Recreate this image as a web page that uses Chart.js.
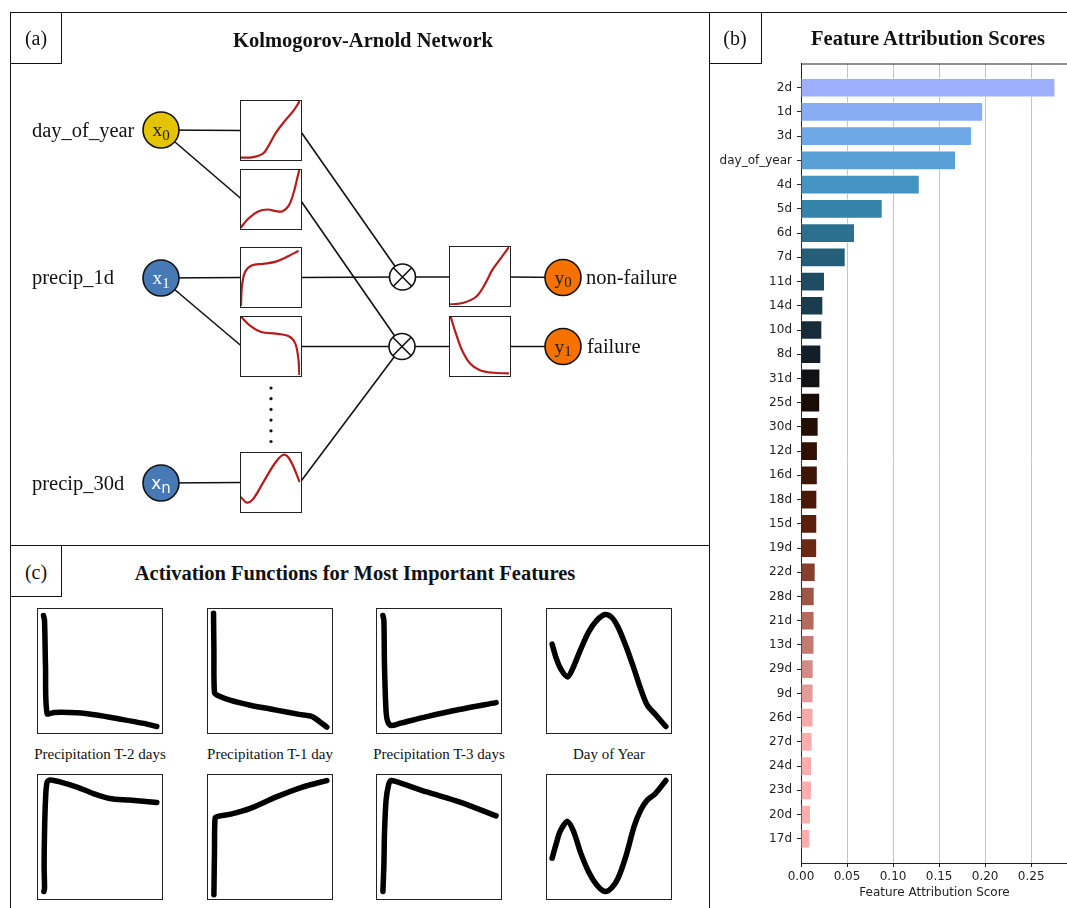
<!DOCTYPE html>
<html>
<head>
<meta charset="utf-8">
<script src="https://cdn.jsdelivr.net/npm/chart.js@4.4.1/dist/chart.umd.min.js"></script>
<style>
body{margin:0;width:1067px;height:908px;overflow:hidden;background:#fff;position:relative;font-family:"Liberation Serif","Times New Roman",serif;color:#111;}
.frame{position:absolute;border:1.5px solid #111;box-sizing:border-box;}
.box{position:absolute;border:1.5px solid #222;box-sizing:border-box;background:#fff;}
.box canvas{position:absolute;left:0;top:0;}
.txt{position:absolute;white-space:nowrap;line-height:1.2;}
.ttl{font-weight:bold;font-size:20.5px;text-align:center;}
.node{position:absolute;width:36px;height:36px;display:flex;align-items:center;justify-content:center;font-size:19.5px;line-height:1;}
.node .s{position:relative;top:5px;font-size:15px;}
canvas{display:block;}
</style>
</head>
<body>

<!-- panel frames -->
<div class="frame" style="left:10px;top:12px;width:700px;height:534px;"></div>
<div class="frame" style="left:10px;top:544.5px;width:700px;height:420px;"></div>
<div class="frame" style="left:708.5px;top:12px;width:420px;height:960px;"></div>
<div class="frame" style="left:10px;top:12px;width:52px;height:52px;"></div>
<div class="frame" style="left:708.5px;top:12px;width:53px;height:52px;"></div>
<div class="frame" style="left:10px;top:544.5px;width:52px;height:52.5px;"></div>

<canvas id="kan" width="709" height="545" style="position:absolute;left:0;top:0;"></canvas>
<canvas id="bars" width="370" height="896" style="position:absolute;left:709px;top:12px;"></canvas>

<div class="txt" style="left:10px;width:52px;top:26.2px;font-size:20px;text-align:center;">(a)</div>
<div class="txt" style="left:709px;width:52px;top:26.2px;font-size:20px;text-align:center;">(b)</div>
<div class="txt" style="left:10px;width:52px;top:560.2px;font-size:20px;text-align:center;">(c)</div>
<div class="txt ttl" style="left:163px;width:400px;top:27.8px;">Kolmogorov-Arnold Network</div>
<div class="txt ttl" style="left:778px;width:300px;top:25.8px;">Feature Attribution Scores</div>
<div class="txt ttl" style="left:55px;width:600px;top:560.8px;">Activation Functions for Most Important Features</div>

<script>
// ---- panel (b): feature attribution scores ----
const features = ['2d','1d','3d','day_of_year','4d','5d','6d','7d','11d','14d','10d','8d',
  '31d','25d','30d','12d','16d','18d','15d','19d','22d','28d','21d','13d','29d','9d',
  '26d','27d','24d','23d','20d','17d'];
const scores = [0.276,0.1975,0.1855,0.168,0.1286,0.0884,0.0583,0.0482,0.0257,0.0239,0.0228,0.0217,
  0.0207,0.0205,0.0188,0.018,0.0179,0.0174,0.0173,0.0172,0.0156,0.0145,0.0144,0.0143,0.0134,0.0133,
  0.0132,0.0123,0.0116,0.0115,0.0105,0.0098];
const barColors = ['#9eb0fd','#88adf3','#6fa8e6','#58a0d5','#4393c3','#3583a9','#2b708e','#255e79',
  '#204c63','#1b3c4e','#162c3a','#121e28','#111214','#190b05','#240d02','#311104','#3f1505','#4c1906',
  '#5b1f0b','#6b2914','#863f2c','#9f5646','#b46a5c','#c47a6f','#d48b85','#e59b99','#f6a9a8','#ffadad',
  '#ffadad','#ffadad','#ffadad','#ffadad'];
const scoreTicks = [0, 0.05, 0.10, 0.15, 0.20, 0.25];

// ---- panel (c): activation functions (normalised box coordinates) ----
const precip2dA = [[.045,.947],[.053,.907],[.061,.536],[.074,.151],[.132,.159],[.317,.156],[.476,.138],[.661,.106],[.847,.072],[.966,.045]];
const precip1dA = [[.045,.966],[.048,.668],[.053,.318],[.079,.297],[.185,.257],[.344,.218],[.556,.178],[.741,.143],[.847,.125],[.913,.080],[.966,.040]];
const precip3dA = [[.048,.947],[.056,.907],[.061,.536],[.074,.164],[.087,.085],[.114,.053],[.193,.072],[.405,.125],[.669,.183],[.968,.239]];
const dayOfYearA = [[.042,.714],[.074,.602],[.114,.509],[.167,.448],[.206,.509],[.272,.668],[.339,.814],[.405,.907],[.471,.955],[.524,.934],[.577,.854],[.643,.695],[.709,.509],[.762,.350],[.815,.218],[.881,.143],[.966,.045]];
const precip2dB = [[.048,.053],[.053,.080],[.050,.265],[.053,.531],[.061,.796],[.074,.942],[.101,.960],[.185,.942],[.317,.902],[.450,.849],[.582,.809],[.741,.796],[.966,.777]];
const precip1dB = [[.048,.027],[.053,.398],[.058,.650],[.079,.663],[.185,.682],[.344,.729],[.556,.822],[.767,.902],[.966,.955]];
const precip3dB = [[.048,.053],[.056,.265],[.061,.531],[.074,.796],[.093,.915],[.114,.955],[.193,.934],[.405,.862],[.669,.782],[.968,.668]];
const dayOfYearB = [[.042,.324],[.074,.438],[.108,.544],[.167,.623],[.220,.531],[.272,.371],[.339,.212],[.405,.106],[.471,.053],[.524,.080],[.577,.159],[.643,.345],[.709,.584],[.762,.716],[.815,.796],[.881,.849],[.966,.955]];
const captions = ['Precipitation T-2 days','Precipitation T-1 day','Precipitation T-3 days','Day of Year'];

// ---- panel (a): KAN edge functions (normalised box coordinates) ----
const kanDoy1 = [[0,.022],[.208,.033],[.372,.093],[.454,.203],[.590,.451],[.754,.670],[.891,.835],[.989,.989]];
const kanDoy2 = [[0,.011],[.126,.165],[.290,.286],[.454,.319],[.590,.291],[.699,.286],[.809,.385],[.891,.604],[.945,.824],[.989,1.0]];
const kanP1a  = [[0,.016],[.016,.344],[.071,.590],[.180,.699],[.372,.727],[.590,.765],[.809,.863],[.962,.945]];
const kanP1b  = [[.016,.989],[.153,.852],[.344,.742],[.590,.714],[.809,.670],[.918,.549],[.973,.275],[.989,.011]];
const kanP30  = [[0,.238],[.098,.144],[.208,.210],[.372,.486],[.590,.845],[.727,.972],[.836,.873],[.989,.514]];
const kanOut0 = [[.011,.011],[.228,.038],[.446,.146],[.609,.389],[.717,.605],[.853,.795],[.989,.984]];
const kanOut1 = [[.016,.989],[.098,.722],[.208,.417],[.344,.194],[.508,.083],[.727,.039],[.989,.028]];

// ---- diagram layout (page pixels) ----
const nodes = [
  {x:161, y:130, c:'#e4c300', t:'x', s:'0', col:'#222'},
  {x:161, y:278, c:'#4779b5', t:'x', s:'1', col:'#fff'},
  {x:161, y:483, c:'#4779b5', t:'x', s:'n', col:'#fff', sans:true},
  {x:563, y:277.5, c:'#f57100', t:'y', s:'0', col:'#222'},
  {x:563, y:346.5, c:'#f57100', t:'y', s:'1', col:'#222'}
];
const mults = [{x:402.5, y:277}, {x:402, y:346.5}];
const dots = [388, 398.7, 409.4, 420.1, 430.8, 441.5].map(y => ({x:271, y:y}));
const edges = [
  [161,130,242,130.5],[161,130,242,199.5],[161,278,242,277.5],[161,278,242,346.5],[161,483,242,482.5],
  [300,130.5,402.5,277],[300,199.5,402,346.5],[300,277.5,402.5,277],[300,346.5,402,346.5],[300,482.5,402,346.5],
  [402.5,277,451,277],[402,346.5,451,346.5],[509,277,563,277.5],[509,346.5,563,346.5]
];
const kanBoxes = [
  {l:240, t:100, d:kanDoy1}, {l:240, t:169, d:kanDoy2}, {l:240, t:247, d:kanP1a},
  {l:240, t:316, d:kanP1b}, {l:240, t:452, d:kanP30}, {l:449, t:246, d:kanOut0}, {l:449, t:316, d:kanOut1}
];
const kanLabels = [
  {text:'day_of_year', l:32, b:137}, {text:'precip_1d', l:32, b:284}, {text:'precip_30d', l:32, b:490},
  {text:'non-failure', l:586, b:284}, {text:'failure', l:587, b:353}
];

const quiet = {responsive:false, animation:false, events:[], layout:{padding:0, autoPadding:false},
  plugins:{legend:{display:false}, tooltip:{enabled:false}}};

function miniChart(canvas, pts, color, width, tension) {
  new Chart(canvas, {
    type: 'line',
    data: {datasets: [{data: pts.map(p => ({x:p[0], y:p[1]})), borderColor: color, borderWidth: width,
      pointRadius: 0, tension: tension, borderCapStyle: 'round', borderJoinStyle: 'round', fill: false}]},
    options: Object.assign({}, quiet, {scales: {
      x: {type:'linear', min:0, max:1, display:false},
      y: {type:'linear', min:0, max:1, display:false}}})
  });
}

function addBox(l, t, w, h) {
  const div = document.createElement('div');
  div.className = 'box';
  div.style.cssText = `left:${l}px;top:${t}px;width:${w}px;height:${h}px;`;
  const cv = document.createElement('canvas');
  cv.width = w - 3; cv.height = h - 3;
  div.appendChild(cv);
  document.body.appendChild(div);
  return cv;
}

function addText(text, l, top, size, extra) {
  const d = document.createElement('div');
  d.className = 'txt';
  d.style.cssText = `left:${l}px;top:${top}px;font-size:${size}px;` + (extra || '');
  d.textContent = text;
  document.body.appendChild(d);
}

// diagram (edges, nodes, product symbols)
const kanSets = edges.map(e => ({data:[{x:e[0], y:e[1]}, {x:e[2], y:e[3]}], showLine:true,
  borderColor:'#111', borderWidth:1.6, pointRadius:0, order:5}));
kanSets.push({data: nodes.map(n => ({x:n.x, y:n.y})), pointRadius:18, pointBackgroundColor: nodes.map(n => n.c),
  pointBorderColor:'#111', pointBorderWidth:1.6, order:2});
kanSets.push({data: mults, pointRadius:13, pointBackgroundColor:'#fff', pointBorderColor:'#111', pointBorderWidth:1.6, order:2});
kanSets.push({data: mults, pointStyle:'crossRot', pointRadius:13, pointBorderColor:'#111', pointBorderWidth:1.6, order:1});
kanSets.push({data: dots, pointRadius:1.6, pointBackgroundColor:'#111', pointBorderWidth:0, order:2});

new Chart(document.getElementById('kan'), {
  type: 'scatter',
  data: {datasets: kanSets},
  options: Object.assign({}, quiet, {scales: {
    x: {type:'linear', min:0, max:709, display:false},
    y: {type:'linear', min:0, max:545, reverse:true, display:false}}})
});

kanBoxes.forEach(b => miniChart(addBox(b.l, b.t, 62, 61), b.d, '#b71c1c', 2.2, 0.35));

nodes.forEach(n => {
  const d = document.createElement('div');
  d.className = 'node';
  d.style.left = (n.x - 18) + 'px';
  d.style.top = (n.y - 18) + 'px';
  d.style.color = n.col;
  if (n.sans) { d.style.fontFamily = '"DejaVu Sans", sans-serif'; d.style.fontSize = '17px'; }
  d.innerHTML = n.t + '<span class="s">' + n.s + '</span>';
  document.body.appendChild(d);
});
kanLabels.forEach(k => addText(k.text, k.l, k.b - 19.2, 20.5));

// panel (c) small multiples
const actCurves = [precip2dA, precip1dA, precip3dA, dayOfYearA, precip2dB, precip1dB, precip3dB, dayOfYearB];
const colLeft = [37, 207, 376, 546];
const rowTop = [608, 774];
actCurves.forEach((c, i) => {
  miniChart(addBox(colLeft[i % 4], rowTop[Math.floor(i / 4)], 126, 126), c, '#000', 5.5, 0.3);
});
captions.forEach((c, i) => addText(c, colLeft[i] - 37, 759 - 14.1, 15, 'width:200px;text-align:center;'));

// panel (b) bar chart
const topSpine = {
  id: 'topSpine',
  afterDraw(chart) {
    const {ctx, chartArea: a} = chart;
    ctx.save();
    ctx.strokeStyle = '#222';
    ctx.lineWidth = 1;
    ctx.beginPath();
    ctx.moveTo(a.left, a.top + 0.5);
    ctx.lineTo(a.right, a.top + 0.5);
    ctx.stroke();
    ctx.restore();
  }
};

const tickFont = {family: '"DejaVu Sans", sans-serif', size: 12};
new Chart(document.getElementById('bars'), {
  type: 'bar',
  data: {datasets: [{
    data: scores.map((v, i) => ({x: v, y: i})),
    backgroundColor: barColors,
    borderColor: 'rgba(255,255,255,0.55)',
    borderWidth: 1,
    barThickness: 19
  }]},
  options: Object.assign({}, quiet, {
    indexAxis: 'y',
    layout: {padding: {top: 51.5, right: 11, bottom: 0, left: 0}, autoPadding: false},
    scales: {
      x: {
        type: 'linear', min: 0, max: 0.29,
        afterBuildTicks: ax => { ax.ticks = scoreTicks.map(v => ({value: v})); },
        afterFit: ax => { ax.height = 45; },
        ticks: {includeBounds: false, color: '#222', font: tickFont, padding: 3,
          callback: v => Number(v).toFixed(2)},
        grid: {color: '#c4c4c4', lineWidth: 1, tickColor: '#222', tickLength: 4},
        border: {color: '#222', width: 1},
        title: {display: true, text: 'Feature Attribution Score', color: '#222', font: tickFont,
          padding: {top: 4, bottom: 8}}
      },
      y: {
        type: 'linear', min: -1, max: features.length, reverse: true, offset: false,
        afterBuildTicks: ax => { ax.ticks = features.map((f, i) => ({value: i})); },
        afterFit: ax => { ax.width = 92; },
        ticks: {autoSkip: false, color: '#222', font: tickFont, padding: 5,
          callback: v => features[v]},
        grid: {offset: false, drawOnChartArea: false, tickColor: '#222', tickLength: 4},
        border: {color: '#222', width: 1}
      }
    }
  }),
  plugins: [topSpine]
});
</script>
</body>
</html>
